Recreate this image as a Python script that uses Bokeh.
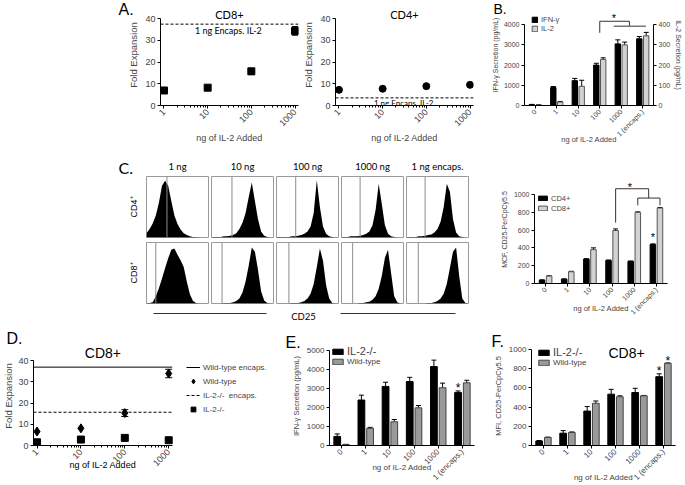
import numpy as np
from bokeh.plotting import figure
from bokeh.layouts import row, column, Spacer
from bokeh.models import (ColumnDataSource, Whisker, TeeHead, Span, Label, Legend,
                          LegendItem, LinearAxis, Range1d, FixedTicker, NumeralTickFormatter,
                          CustomJSTickFormatter)
from bokeh.embed import file_html
from bokeh.resources import INLINE

SANS = "Liberation Sans"
HUM = "Lato"

# ---------------- data ----------------
doses = [1, 10, 100, 1000]
dose_minor = [2, 3, 4, 5, 6, 7, 8, 9, 20, 30, 40, 50, 60, 70, 80, 90,
              200, 300, 400, 500, 600, 700, 800, 900]
fold_ticks = [0, 10, 20, 30, 40]

a_cd8_fold = [6.9, 8.2, 15.7, 34.3]
a_cd8_err = [0.0, 0.0, 1.4, 2.0]
a_cd8_encaps = 37.4
a_cd4_fold = [7.2, 7.7, 8.9, 9.5]
a_cd4_err = [0.0, 0.0, 0.0, 0.0]
a_cd4_encaps = 3.5

bar_cats = ["0", "1", "10", "100", "1000", "1 (encaps.)"]

b_ifng = [40, 890, 1230, 2000, 3050, 3300]
b_ifng_err = [15, 50, 110, 90, 200, 110]
b_il2 = [3, 17, 95, 228, 300, 345]
b_il2_err = [1, 3, 30, 8, 14, 17]
b_ifng_ticks = [0, 1000, 2000, 3000, 4000]
b_il2_ticks = [0, 100, 200, 300, 400]

hist_titles = ["1 ng", "10 ng", "100 ng", "1000 ng", "1 ng encaps."]
hist_bins = [0.0, 0.05, 0.1, 0.15, 0.2, 0.25, 0.3, 0.35, 0.4, 0.45, 0.5,
             0.55, 0.6, 0.65, 0.7, 0.75, 0.8, 0.85, 0.9, 0.95, 1.0]
hist_cd4 = [
    [0.07, 0.14, 0.23, 0.36, 0.57, 0.85, 0.93, 0.85, 0.60, 0.36, 0.22, 0.13, 0.07, 0.04, 0.02, 0.01, 0.01, 0, 0, 0, 0],
    [0.01, 0.01, 0.01, 0.01, 0.02, 0.02, 0.03, 0.04, 0.07, 0.14, 0.24, 0.40, 0.66, 0.90, 0.60, 0.30, 0.10, 0.03, 0.01, 0, 0],
    [0.01, 0.01, 0.01, 0.01, 0.01, 0.02, 0.02, 0.03, 0.04, 0.06, 0.10, 0.18, 0.40, 0.94, 0.50, 0.18, 0.06, 0.02, 0.01, 0, 0],
    [0.01, 0.01, 0.01, 0.02, 0.02, 0.02, 0.03, 0.04, 0.06, 0.10, 0.20, 0.45, 0.88, 0.55, 0.20, 0.06, 0.02, 0.01, 0, 0, 0],
    [0.01, 0.01, 0.01, 0.01, 0.02, 0.02, 0.03, 0.04, 0.05, 0.08, 0.14, 0.26, 0.50, 0.88, 0.75, 0.30, 0.08, 0.02, 0.01, 0, 0],
]
hist_cd8 = [
    [0.01, 0.01, 0.02, 0.12, 0.25, 0.41, 0.58, 0.74, 0.88, 0.90, 0.80, 0.71, 0.60, 0.36, 0.15, 0.04, 0.01, 0, 0, 0, 0],
    [0, 0, 0, 0, 0.01, 0.01, 0.01, 0.02, 0.04, 0.08, 0.18, 0.36, 0.62, 0.92, 0.85, 0.55, 0.20, 0.05, 0.01, 0, 0],
    [0, 0, 0, 0, 0, 0.01, 0.01, 0.01, 0.02, 0.04, 0.08, 0.16, 0.32, 0.60, 0.90, 0.70, 0.30, 0.08, 0.01, 0, 0],
    [0, 0, 0, 0, 0, 0, 0.01, 0.01, 0.02, 0.03, 0.06, 0.12, 0.24, 0.45, 0.75, 0.88, 0.50, 0.12, 0.02, 0, 0],
    [0, 0, 0, 0, 0, 0, 0, 0.01, 0.01, 0.02, 0.04, 0.08, 0.16, 0.32, 0.58, 0.85, 0.92, 0.45, 0.08, 0.01, 0],
]
gate_cd4 = [0.33, 0.33, 0.31, 0.30, 0.30]
gate_cd8 = [0.15, 0.17, 0.20, 0.18, 0.19]

c_cd4 = [38, 49, 275, 260, 249, 438]
c_cd4_err = [3, 3, 4, 4, 4, 8]
c_cd8 = [83, 132, 381, 596, 800, 849]
c_cd8_err = [4, 5, 20, 18, 6, 6]
c_ticks = [0, 200, 400, 600, 800, 1000]

d_wt_encaps = 37.0
d_ko_encaps = 15.7
d_wt = [6.6, 8.1, 15.3, 34.0]
d_wt_err = [0.0, 0.0, 1.6, 2.0]
d_ko = [1.5, 2.8, 3.6, 2.5]

e_ko = [478, 2390, 3106, 3362, 4147, 2782]
e_ko_err = [130, 256, 220, 220, 340, 85]
e_wt = [50, 904, 1246, 1980, 3038, 3294]
e_wt_err = [10, 50, 120, 120, 240, 135]
e_ticks = [0, 1000, 2000, 3000, 4000, 5000]

f_ko = [47, 128, 358, 534, 551, 716]
f_ko_err = [5, 27, 47, 50, 44, 30]
f_wt = [84, 135, 439, 507, 517, 855]
f_wt_err = [3, 6, 24, 10, 4, 4]
f_ticks = [0, 200, 400, 600, 800, 1000]

# ---------------- helpers ----------------
LOG_PAD = 10 ** 0.08
bar_x = np.arange(len(bar_cats))
X_LO, X_HI = doses[0] / LOG_PAD, doses[-1] * LOG_PAD


def base_fig(width, height, left, right, top, bottom, **kw):
    p = figure(width=width, height=height, min_border_left=left, min_border_right=right,
               min_border_top=top, min_border_bottom=bottom, toolbar_location=None,
               output_backend="svg", **kw)
    p.outline_line_color = None
    p.grid.visible = False
    return p


def std_axes(p, tick_size, label_size, label_standoff=3):
    for ax in p.axis:
        ax.axis_line_color = "black"
        ax.axis_line_width = 1
        ax.major_tick_line_color = "black"
        ax.major_tick_in = 0
        ax.major_tick_out = 3
        ax.minor_tick_line_color = None
        ax.major_label_text_font = SANS
        ax.major_label_text_font_size = tick_size
        ax.major_label_standoff = 2
        ax.axis_label_text_font = SANS
        ax.axis_label_text_font_size = label_size
        ax.axis_label_text_font_style = "normal"
        ax.axis_label_standoff = label_standoff


def label(p, x, y, text, size, font=SANS, align="center", baseline="middle",
          xo=0, yo=0, angle=0.0, place="center"):
    lab = Label(x=float(x), y=float(y), text=text, text_font=font, text_font_size=size,
                text_align=align, text_baseline=baseline, x_offset=xo, y_offset=yo,
                angle=angle, text_color="black")
    if place == "center":
        p.add_layout(lab)
    else:
        p.add_layout(lab, place)


def whiskers(p, xs, ys, errs, head, both, y_range_name="default"):
    keep = [i for i, e in enumerate(errs) if e > 0]
    src = ColumnDataSource(dict(
        base=[float(xs[i]) for i in keep],
        upper=[ys[i] + errs[i] for i in keep],
        lower=[(ys[i] - errs[i]) if both else ys[i] for i in keep]))
    w = Whisker(source=src, base="base", upper="upper", lower="lower",
                line_color="black", line_width=1,
                upper_head=TeeHead(size=head, line_color="black", line_width=1),
                lower_head=TeeHead(size=head, line_color="black", line_width=1) if both else None,
                y_range_name=y_range_name)
    p.add_layout(w)


def cat_xaxis(p, title, standoff):
    ax = p.xaxis[0]
    ax.ticker = FixedTicker(ticks=[int(v) for v in bar_x])
    ax.formatter = CustomJSTickFormatter(args=dict(labels=bar_cats),
                                         code="return labels[Math.round(tick)] ?? '';")
    ax.major_label_orientation = np.pi / 4
    ax.axis_label = title
    ax.axis_label_standoff = standoff


def log_xaxis(p, title, standoff):
    ax = p.xaxis[0]
    ax.ticker = FixedTicker(ticks=doses, minor_ticks=dose_minor)
    ax.formatter = NumeralTickFormatter(format="0")
    ax.major_label_orientation = np.pi / 4
    ax.minor_tick_line_color = "black"
    ax.minor_tick_out = 2
    ax.minor_tick_in = 0
    ax.bounds = (X_LO, X_HI)
    if title:
        ax.axis_label = title
        ax.axis_label_standoff = standoff


def make_legend(p, items, loc, size, gw, gh, lh, spacing=0, standoff=3):
    lg = Legend(items=[LegendItem(label=t, renderers=[r]) for t, r in items], location=loc,
                label_text_font=SANS, label_text_font_size=size, glyph_width=gw, glyph_height=gh,
                label_height=lh, label_standoff=standoff, spacing=spacing, padding=1, margin=0,
                border_line_color=None, background_fill_alpha=0.0)
    p.add_layout(lg)
    return lg


# ---------------- panel A ----------------
def fold_panel(width, left, right, fold, err, encaps, marker, msize, title, note_x, note_size,
               note_yo, letter):
    p = base_fig(width, 148, left, right, 4, 43, x_axis_type="log",
                 x_range=Range1d(X_LO, X_HI), y_range=Range1d(0, 40 * 101 / 87))
    p.yaxis.ticker = FixedTicker(ticks=fold_ticks)
    p.yaxis.bounds = (0, 40)
    std_axes(p, "9px", "9.5px", 3)
    log_xaxis(p, "ng of IL-2 Added", 1)
    p.xaxis.axis_label_text_font_size = "9px"
    p.yaxis.axis_label = "Fold Expansion"
    p.add_layout(Span(location=encaps, dimension="width", line_color="black",
                      line_dash="3 2", line_width=1))
    whiskers(p, doses, fold, err, 6, True)
    p.scatter(doses, fold, marker=marker, size=msize, color="black")
    xc = np.sqrt(doses[0] * doses[-1])
    label(p, xc, 40, title, "11px", font=HUM, yo=4)
    label(p, note_x, encaps, "1 ng Encaps. IL-2", note_size, font=HUM, align="left",
          baseline="top", yo=note_yo)
    if letter:
        label(p, X_LO, 40, letter, "16px", align="left", xo=-42, yo=9, place="left")
    return p


pA1 = fold_panel(300, 160, 2, a_cd8_fold, a_cd8_err, a_cd8_encaps, "square", 7, "CD8+",
                 5.1, "9px", -1, "A.")
pA2 = fold_panel(175, 35, 2, a_cd4_fold, a_cd4_err, a_cd4_encaps, "circle", 7, "CD4+",
                 6.3, "8px", 0, None)

# ---------------- panel B ----------------
pB = base_fig(210, 148, 48, 28, 2, 36, x_range=Range1d(-0.5, 5.5), y_range=Range1d(0, 5000))
pB.extra_y_ranges = {"il2": Range1d(0, 500)}
pB.add_layout(LinearAxis(y_range_name="il2", ticker=FixedTicker(ticks=b_il2_ticks), bounds=(0, 400),
                         axis_label="IL-2 Secretion (pg/mL)"), "right")
pB.yaxis[0].ticker = FixedTicker(ticks=b_ifng_ticks)
pB.yaxis[0].bounds = (0, 4000)
pB.yaxis[0].axis_label = "IFN-γ Secretion (pg/mL)"
std_axes(pB, "7px", "7px", 2)
cat_xaxis(pB, "ng of IL-2 Added", -8)
pB.xaxis.axis_label_text_font_size = "7.5px"
rb1 = pB.vbar(x=bar_x - 0.16, top=b_ifng, width=0.25, fill_color="black", line_color="black")
rb2 = pB.vbar(x=bar_x + 0.16, top=b_il2, width=0.25, fill_color="#d2d2d2", line_color="#555555",
              y_range_name="il2")
whiskers(pB, bar_x - 0.16, b_ifng, b_ifng_err, 5, False)
whiskers(pB, bar_x + 0.16, b_il2, b_il2_err, 5, False, y_range_name="il2")
make_legend(pB, [("IFN-γ", rb1), ("IL-2", rb2)], (7, 72), "7.5px", 7, 7, 8)
pB.line(x=[3.0, 3.0, 4.38, 4.38], y=[3600, 4170, 4170, 3920], line_color="#333333", line_width=1)
pB.line(x=[3.65, 5.15], y=[3920, 3920], line_color="#777777", line_width=1.5)
label(pB, 3.66, 4170, "*", "11px", yo=3)
label(pB, -0.5, 4000, "B.", "14px", align="left", xo=-31, yo=16, place="left")

# ---------------- panel C histograms ----------------
def hist_fig(vals, gate, left, height, top, title=None, rowlab=None, letter=None):
    p = figure(width=left + 62 + 1, height=height, x_range=Range1d(0, 1), y_range=Range1d(0, 1),
               min_border_left=left, min_border_right=1, min_border_top=top, min_border_bottom=1,
               x_axis_location=None, y_axis_location=None, toolbar_location=None,
               output_backend="svg")
    p.grid.visible = False
    p.outline_line_color = "#9a9a9a"
    p.varea(x=hist_bins, y1=0, y2=vals, fill_color="black")
    p.add_layout(Span(location=gate, dimension="height", line_color="#8c8c8c", line_width=1))
    if title:
        label(p, 0.5, 1, title, "9.5px", font=HUM, yo=10, place="above")
    if rowlab:
        label(p, 0, 0.5, rowlab, "9px", angle=np.pi / 2, xo=-13, place="left")
    if letter:
        label(p, 0, 1, letter, "16px", font=HUM, align="left", xo=-28, yo=9, place="left")
    return p


top_figs, bot_figs = [], []
for j in range(5):
    left = 146 if j == 0 else 1
    top_figs.append(hist_fig(hist_cd4[j], gate_cd4[j], left, 90, 28, title=hist_titles[j],
                             rowlab="CD4⁺" if j == 0 else None, letter="C." if j == 0 else None))
    bot_figs.append(hist_fig(hist_cd8[j], gate_cd8[j], left, 66, 4,
                             rowlab="CD8⁺" if j == 0 else None))


def hist_row(figs, h):
    kids = []
    for j, f in enumerate(figs):
        if j > 0:
            kids.append(Spacer(width=1, height=h))
        kids.append(f)
    kids.append(Spacer(width=8, height=h))
    return row(*kids)


pS = figure(width=477, height=21, x_range=Range1d(0, 477), y_range=Range1d(0, 21),
            x_axis_location=None, y_axis_location=None, min_border=0,
            toolbar_location=None, output_backend="svg")
pS.outline_line_color = None
pS.grid.visible = False
pS.segment(x0=[153, 340], y0=[12, 12], x1=[266, 455], y1=[12, 12], line_color="#333333", line_width=1)
label(pS, 303, 9, "CD25", "9.5px", font=HUM)

c_hist = column(hist_row(top_figs, 90), hist_row(bot_figs, 66), pS)

# ---------------- panel C bars ----------------
pC = base_fig(208, 177, 57, 18, 27, 42, x_range=Range1d(-0.5, 5.5), y_range=Range1d(0, 1215))
pC.yaxis.ticker = FixedTicker(ticks=c_ticks)
pC.yaxis.bounds = (0, 1000)
pC.yaxis.axis_label = "MCF, CD25-PerCpCy5.5"
std_axes(pC, "7px", "7px", 3)
cat_xaxis(pC, "ng of IL-2 Added", -17)
pC.xaxis.axis_label_text_font_size = "7.5px"
rc1 = pC.vbar(x=bar_x - 0.16, top=c_cd4, width=0.25, fill_color="black", line_color="black")
rc2 = pC.vbar(x=bar_x + 0.16, top=c_cd8, width=0.25, fill_color="#d2d2d2", line_color="#555555")
whiskers(pC, bar_x - 0.16, c_cd4, c_cd4_err, 5, False)
whiskers(pC, bar_x + 0.16, c_cd8, c_cd8_err, 5, False)
make_legend(pC, [("CD4+", rc1), ("CD8+", rc2)], (3, 70), "7.5px", 11, 6, 10)
pC.line(x=[3.16, 3.16, 4.65, 4.65], y=[685, 1066, 1066, 961], line_color="#333333", line_width=1)
pC.line(x=[4.16, 4.16, 5.16, 5.16], y=[879, 961, 961, 879], line_color="#333333", line_width=1)
label(pC, 3.8, 1066, "*", "11px", yo=2)
label(pC, 4.84, c_cd4[5] + c_cd4_err[5], "*", "11px", yo=7)

# ---------------- panel D ----------------
D_DEC = 44.6
pD = base_fig(285, 160, 29, 2, 19, 37, x_axis_type="log",
              x_range=Range1d(X_LO, 10 ** (254 / D_DEC - 0.08)), y_range=Range1d(0, 40 * 104 / 89))
pD.yaxis.ticker = FixedTicker(ticks=fold_ticks)
pD.yaxis.bounds = (0, 40)
std_axes(pD, "9px", "9.5px", 1)
log_xaxis(pD, None, 0)
pD.yaxis.axis_label = "Fold Expansion"
rd_l1 = pD.line(x=[X_LO, X_HI], y=[d_wt_encaps, d_wt_encaps], line_color="black", line_width=1)
rd_l2 = pD.line(x=[X_LO, X_HI], y=[d_ko_encaps, d_ko_encaps], line_color="black", line_width=1,
                line_dash="3 2")
whiskers(pD, doses, d_wt, d_wt_err, 7, True)
rd_wt = pD.scatter(doses, d_wt, marker="diamond", size=9, color="black")
rd_ko = pD.scatter(doses, d_ko, marker="square", size=7, color="black")
make_legend(pD, [("Wild-type encaps.", rd_l1), ("Wild-type", rd_wt),
                 ("IL-2-/-  encaps.", rd_l2), ("IL-2-/-", rd_ko)], (153, 30), "8px", 14, 12, 12,
            spacing=2)
xcD = np.sqrt(doses[0] * doses[-1])
label(pD, xcD, 40, "CD8+", "14px", yo=8)
label(pD, xcD, 0, "ng of IL-2 Added", "9px", yo=-19, place="below")
label(pD, X_LO, 40, "D.", "16px", align="left", xo=-27, yo=22, place="above")

# ---------------- panel E ----------------
pE = base_fig(195, 160, 44, 6, 21, 37, x_range=Range1d(-0.5, 5.5), y_range=Range1d(0, 5204))
pE.yaxis.ticker = FixedTicker(ticks=e_ticks)
pE.yaxis.bounds = (0, 5000)
pE.yaxis.axis_label = "IFN-γ Secretion (pg/mL)"
std_axes(pE, "8px", "7.5px", 3)
cat_xaxis(pE, "ng of IL-2 Added", -25)
pE.xaxis.axis_label_text_font_size = "8px"
re1 = pE.vbar(x=bar_x - 0.18, top=e_ko, width=0.28, fill_color="black", line_color="black")
re2 = pE.vbar(x=bar_x + 0.18, top=e_wt, width=0.28, fill_color="#9a9a9a", line_color="#444444")
whiskers(pE, bar_x - 0.18, e_ko, e_ko_err, 5, False)
whiskers(pE, bar_x + 0.18, e_wt, e_wt_err, 5, False)
make_legend(pE, [("IL-2-/-", re1)], (2, 88), "11px", 13, 7, 12)
make_legend(pE, [("Wild-type", re2)], (2, 79), "8px", 13, 7, 9)
label(pE, 5 - 0.18, e_ko[5] + e_ko_err[5], "*", "12px", yo=3)
label(pE, -0.5, 5000, "E.", "16px", align="left", xo=-44, yo=8, place="above")

# ---------------- panel F ----------------
pF = base_fig(205, 160, 51, 10, 21, 37, x_range=Range1d(-0.5, 5.5), y_range=Range1d(0, 1030))
pF.yaxis.ticker = FixedTicker(ticks=f_ticks)
pF.yaxis.bounds = (0, 1000)
pF.yaxis.axis_label = "MFI, CD25-PerCpCy5.5"
std_axes(pF, "8px", "7.5px", 3)
cat_xaxis(pF, "ng of IL-2 Added", -15)
pF.xaxis.axis_label_text_font_size = "8px"
rf1 = pF.vbar(x=bar_x - 0.18, top=f_ko, width=0.28, fill_color="black", line_color="black")
rf2 = pF.vbar(x=bar_x + 0.18, top=f_wt, width=0.28, fill_color="#9a9a9a", line_color="#444444")
whiskers(pF, bar_x - 0.18, f_ko, f_ko_err, 5, False)
whiskers(pF, bar_x + 0.18, f_wt, f_wt_err, 5, False)
make_legend(pF, [("IL-2-/-", rf1)], (6, 87), "11px", 13, 7, 12)
make_legend(pF, [("Wild-type", rf2)], (6, 78), "8px", 13, 7, 9)
label(pF, 3.46, 1000, "CD8+", "14px", yo=-4)
label(pF, 5 - 0.18, f_ko[5] + f_ko_err[5], "*", "12px", yo=3)
label(pF, 5 + 0.18, f_wt[5] + f_wt_err[5], "*", "12px", yo=2)
label(pF, -0.5, 1000, "F.", "16px", align="left", xo=-40, yo=8, place="above")

# ---------------- layout ----------------
layout = column(row(pA1, pA2, pB), row(c_hist, pC), row(pD, pE, pF))

open("out.html", "w").write(file_html(layout, INLINE, "IL-2 figure"))
